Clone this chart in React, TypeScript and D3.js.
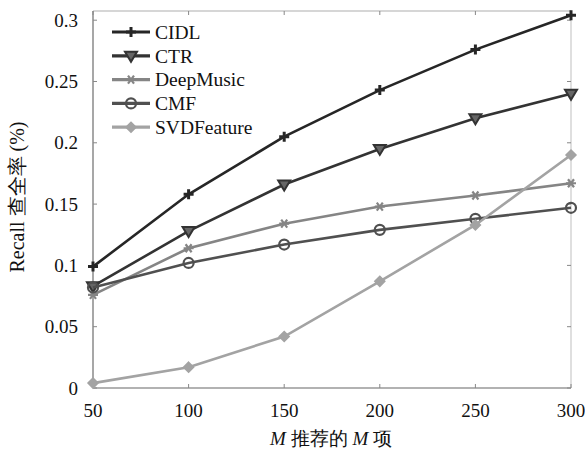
import React, { useRef, useEffect } from "react"
import * as d3 from "d3"

// M values on the x axis
const topM = [50, 100, 150, 200, 250, 300]
const yTicks = [0, 0.05, 0.1, 0.15, 0.2, 0.25, 0.3]

// recall, one array per method
const cidl = [0.099, 0.158, 0.205, 0.243, 0.276, 0.304]
const ctr = [0.083, 0.128, 0.166, 0.195, 0.22, 0.24]
const deepMusic = [0.076, 0.114, 0.134, 0.148, 0.157, 0.167]
const cmf = [0.082, 0.102, 0.117, 0.129, 0.138, 0.147]
const svdFeature = [0.004, 0.017, 0.042, 0.087, 0.133, 0.19]

const seriesNames = ["CIDL", "CTR", "DeepMusic", "CMF", "SVDFeature"]
const seriesValues = [cidl, ctr, deepMusic, cmf, svdFeature]
const seriesColors = ["#262626", "#333333", "#858585", "#505050", "#a3a3a3"]
const seriesMarkers = ["plus", "triangle", "star", "circle", "diamond"]

const W = 585
const H = 450
const margin = { left: 93, right: 14, top: 11, bottom: 62 }

function drawMarker(g, kind, color) {
  if (kind === "plus") {
    g.append("path").attr("d", "M-5,0H5M0,-5V5").attr("stroke", color).attr("stroke-width", 3)
  } else if (kind === "triangle") {
    g.append("path").attr("d", "M-6,-4H6L0,6Z").attr("fill", "#666").attr("stroke", color).attr("stroke-width", 2)
  } else if (kind === "star") {
    g.append("path").attr("d", "M-5,0H5M-3,-4L3,4M-3,4L3,-4").attr("stroke", color).attr("stroke-width", 2.2)
  } else if (kind === "circle") {
    g.append("circle").attr("r", 5).attr("fill", "none").attr("stroke", color).attr("stroke-width", 2.2)
  } else {
    g.append("path").attr("d", "M0,-5L5,0L0,5L-5,0Z").attr("fill", color).attr("stroke", color).attr("stroke-width", 1.5)
  }
}

const App = () => {
  const ref = useRef(null)

  useEffect(() => {
    const svg = d3.select(ref.current)
    svg.selectAll("*").remove()

    const x = d3.scaleLinear().domain([50, 300]).range([margin.left, W - margin.right])
    const y = d3.scaleLinear().domain([0, 0.3075]).range([H - margin.bottom, margin.top])
    const x0 = margin.left, x1 = W - margin.right
    const y0 = H - margin.bottom, y1 = margin.top

    // frame
    svg.append("line").attr("x1", x0).attr("x2", x1).attr("y1", y1).attr("y2", y1).attr("stroke", "#c8c8c8").attr("stroke-width", 1.5)
    svg.append("line").attr("x1", x1).attr("x2", x1).attr("y1", y1).attr("y2", y0).attr("stroke", "#d5d5d5").attr("stroke-width", 1.5)
    svg.append("line").attr("x1", x0).attr("x2", x1).attr("y1", y0).attr("y2", y0).attr("stroke", "#999").attr("stroke-width", 1.5)
    svg.append("line").attr("x1", x0).attr("x2", x0).attr("y1", y1).attr("y2", y0).attr("stroke", "#8a8a8a").attr("stroke-width", 1.5)

    const font = "Liberation Serif, Times New Roman, serif"

    yTicks.forEach(t => {
      svg.append("line").attr("x1", x0).attr("x2", x0 + 4).attr("y1", y(t)).attr("y2", y(t)).attr("stroke", "#888")
      svg.append("line").attr("x1", x1).attr("x2", x1 - 4).attr("y1", y(t)).attr("y2", y(t)).attr("stroke", "#888")
      svg.append("text").attr("x", x0 - 15).attr("y", y(t)).attr("dy", "0.35em")
        .attr("text-anchor", "end").attr("font-family", font).attr("font-size", 19).attr("fill", "#111")
        .text(d3.format("~g")(t))
    })
    topM.forEach(t => {
      svg.append("line").attr("x1", x(t)).attr("x2", x(t)).attr("y1", y0).attr("y2", y0 - 4).attr("stroke", "#888")
      svg.append("line").attr("x1", x(t)).attr("x2", x(t)).attr("y1", y1).attr("y2", y1 + 4).attr("stroke", "#888")
      svg.append("text").attr("x", x(t)).attr("y", y0 + 29)
        .attr("text-anchor", "middle").attr("font-family", font).attr("font-size", 19).attr("fill", "#111")
        .text(t)
    })

    // axis titles
    const xt = svg.append("text").attr("x", 331).attr("y", 445).attr("text-anchor", "middle")
      .attr("font-family", font).attr("font-size", 19).attr("fill", "#111")
    xt.append("tspan").attr("font-style", "italic").text("M")
    xt.append("tspan").text(" 推荐的 ")
    xt.append("tspan").attr("font-style", "italic").text("M")
    xt.append("tspan").text(" 项")

    svg.append("text").attr("transform", "translate(24,197) rotate(-90)").attr("text-anchor", "middle")
      .attr("font-family", font).attr("font-size", 20).attr("fill", "#111")
      .text("Recall 查全率 (%)")

    const line = d3.line().x((d, i) => x(topM[i])).y(d => y(d))

    seriesValues.forEach((vals, s) => {
      const c = seriesColors[s]
      svg.append("path").attr("d", line(vals)).attr("fill", "none").attr("stroke", c).attr("stroke-width", 2.6)
      vals.forEach((v, i) => {
        const g = svg.append("g").attr("transform", `translate(${x(topM[i])},${y(v)})`)
        drawMarker(g, seriesMarkers[s], c)
      })
    })

    // legend
    seriesNames.forEach((name, s) => {
      const ly = 32 + s * 23.8
      const c = seriesColors[s]
      svg.append("line").attr("x1", 112).attr("x2", 150).attr("y1", ly).attr("y2", ly).attr("stroke", c).attr("stroke-width", 3.2)
      const g = svg.append("g").attr("transform", `translate(131,${ly})`)
      drawMarker(g, seriesMarkers[s], c)
      svg.append("text").attr("x", 155).attr("y", ly).attr("dy", "0.35em")
        .attr("font-family", font).attr("font-size", 19.5).attr("fill", "#111").text(name)
    })
  }, [])

  return <svg ref={ref} width={W} height={H} style={{ position: "absolute", left: 0, top: 0, background: "#fff" }} />
}

export default App
